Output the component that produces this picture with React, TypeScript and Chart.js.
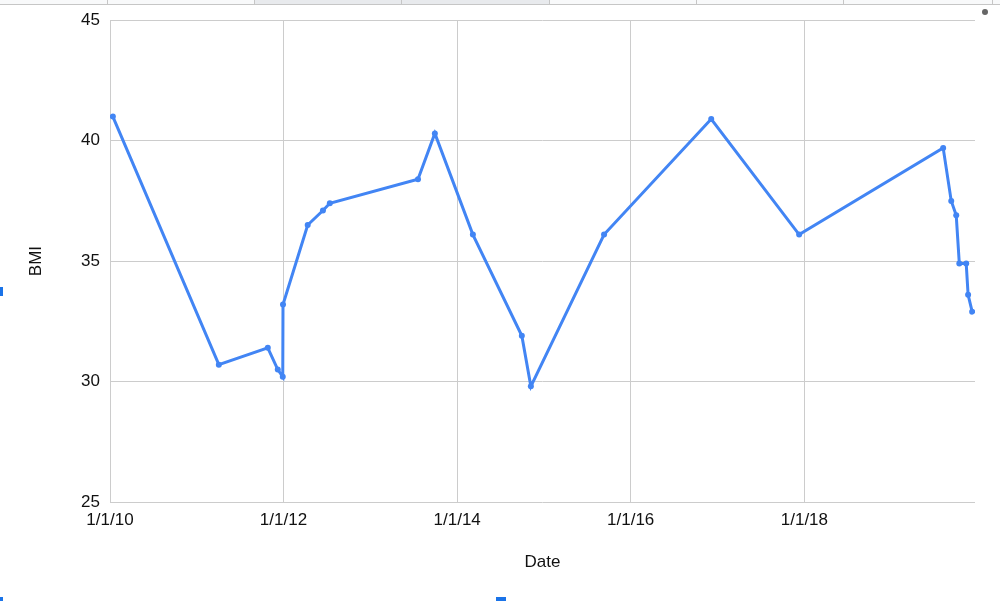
import { useEffect, useRef } from "react";
import { Chart, registerables, type ChartConfiguration } from "chart.js";

Chart.register(...registerables);

// Fechas de medición y BMI
const dates = [
  "2010-01-13", "2011-04-04", "2011-10-27", "2011-12-08", "2011-12-29",
  "2011-12-30", "2012-04-12", "2012-06-15", "2012-07-14", "2013-07-20",
  "2013-09-29", "2014-03-08", "2014-09-30", "2014-11-07", "2015-09-11",
  "2016-12-05", "2017-12-10", "2019-08-08", "2019-09-11", "2019-10-02",
  "2019-10-15", "2019-11-13", "2019-11-21", "2019-12-08",
];
const bmi = [
  41.0, 30.7, 31.4, 30.5, 30.2,
  33.2, 36.5, 37.1, 37.4, 38.4,
  40.3, 36.1, 31.9, 29.8, 36.1,
  40.9, 36.1, 39.7, 37.5, 36.9,
  34.9, 34.9, 33.6, 32.9,
];

const tickDates = ["2010-01-01", "2012-01-01", "2014-01-01", "2016-01-01", "2018-01-01"];
const tickLabels = ["1/1/10", "1/1/12", "1/1/14", "1/1/16", "1/1/18"];
const yTicks = [25, 30, 35, 40, 45];

const FONT = { family: "Arial, 'Liberation Sans', sans-serif", size: 17 };
const TEXT = "#111";
const BLUE = "#4285f4";
const GRID = "#cccccc";

// columnas de la hoja detrás del gráfico (franja superior)
const sheetCols = [107, 254, 401, 549, 696, 843, 992];

export default function App() {
  const canvasRef = useRef<HTMLCanvasElement>(null);

  useEffect(() => {
    if (!canvasRef.current) return;
    const cfg: ChartConfiguration<"line", { x: number; y: number }[]> = {
      type: "line",
      data: {
        datasets: [
          {
            label: "BMI",
            data: dates.map((d, i) => ({ x: Date.parse(d), y: bmi[i] })),
            borderColor: BLUE,
            backgroundColor: BLUE,
            borderWidth: 3,
            tension: 0,
            pointRadius: 3,
            pointBorderWidth: 0,
            pointBackgroundColor: BLUE,
          },
        ],
      },
      options: {
        animation: false,
        responsive: true,
        maintainAspectRatio: false,
        layout: { padding: { top: 19.5, right: 25, left: 0, bottom: 0 } },
        plugins: { legend: { display: false }, tooltip: { enabled: false } },
        scales: {
          x: {
            type: "linear",
            min: Date.parse("2010-01-01"),
            max: Date.parse("2019-12-20"),
            afterBuildTicks: (s) => {
              s.ticks = tickDates.map((d) => ({ value: Date.parse(d) }));
            },
            afterFit: (s) => {
              s.height = 99;
            },
            ticks: {
              autoSkip: false,
              maxRotation: 0,
              padding: 8,
              color: TEXT,
              font: FONT,
              callback: (_v, i) => tickLabels[i],
            },
            grid: { color: GRID, drawTicks: false },
            border: { display: false },
            title: {
              display: true,
              text: "Date",
              color: TEXT,
              font: FONT,
              padding: { top: 0, bottom: 28 },
            },
          },
          y: {
            min: 25,
            max: 45,
            afterBuildTicks: (s) => {
              s.ticks = yTicks.map((v) => ({ value: v }));
            },
            afterFit: (s) => {
              s.width = 110;
            },
            ticks: { padding: 10, color: TEXT, font: FONT },
            grid: { color: GRID, drawTicks: false },
            border: { display: false },
            title: {
              display: true,
              text: "BMI",
              color: TEXT,
              font: FONT,
              padding: { top: 26, bottom: 0 },
            },
          },
        },
      },
    };
    const chart = new Chart(canvasRef.current, cfg);
    return () => chart.destroy();
  }, []);

  return (
    <div
      style={{
        position: "absolute",
        left: 0,
        top: 0,
        width: 1000,
        height: 601,
        background: "#fff",
        overflow: "hidden",
      }}
    >
      {/* franja de la hoja de cálculo */}
      <div
        style={{
          position: "absolute",
          left: 0,
          top: 0,
          width: 1000,
          height: 4,
          background: "#f8f9fa",
          borderBottom: "1px solid #c6c6c6",
        }}
      />
      <div
        style={{ position: "absolute", left: 254, top: 0, width: 295, height: 4, background: "#e8eaed" }}
      />
      {sheetCols.map((x) => (
        <div
          key={x}
          style={{ position: "absolute", left: x, top: 0, width: 1, height: 5, background: "#c6c6c6" }}
        />
      ))}
      <div
        style={{
          position: "absolute",
          left: 982,
          top: 9,
          width: 6,
          height: 6,
          borderRadius: 3,
          background: "#666",
        }}
      />
      {/* asas de selección */}
      <div style={{ position: "absolute", left: 0, top: 287, width: 3, height: 9, background: "#1a73e8" }} />
      <div style={{ position: "absolute", left: 0, top: 597, width: 3, height: 4, background: "#1a73e8" }} />
      <div style={{ position: "absolute", left: 496, top: 597, width: 10, height: 4, background: "#1a73e8" }} />
      <div style={{ position: "absolute", left: 0, top: 0, width: 1000, height: 601 }}>
        <canvas ref={canvasRef} />
      </div>
    </div>
  );
}
